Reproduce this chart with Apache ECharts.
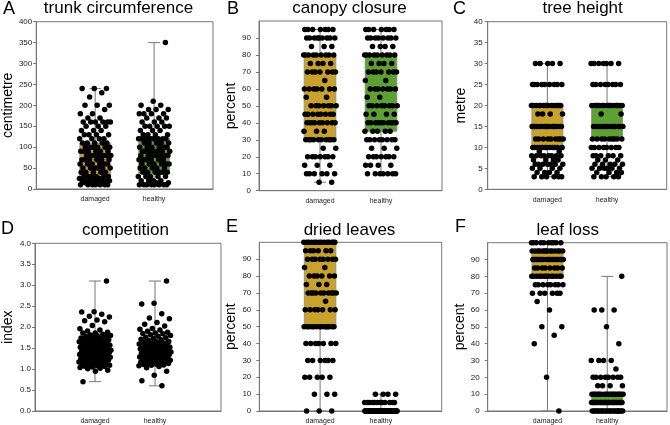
<!DOCTYPE html>
<html><head><meta charset="utf-8">
<script src="https://cdn.jsdelivr.net/npm/echarts@6/dist/echarts.min.js"></script>
<style>html,body{margin:0;padding:0;background:#fff}#c{width:670px;height:425px}</style>
</head><body><div id="c"></div>
<script>
// ---------------- DATA ----------------
const groups = ['damaged', 'healthy'];
const titles = ['trunk circumference', 'canopy closure', 'tree height', 'competition', 'dried leaves', 'leaf loss'];
const letters = ['A', 'B', 'C', 'D', 'E', 'F'];
const yNames = ['centimetre', 'percent', 'metre', 'index', 'percent', 'percent'];

// y-axis ranges [min, max, interval]
const yRanges = [[0, 400, 50], [0, 100, 10], [0, 40, 5], [0, 4, 0.5], [0, 100, 10], [0, 100, 10]];

// box statistics per group: [min, Q1, median, Q3, max]
const boxTrunk = [[10, 30, 70, 110, 240], [10, 37, 78, 122, 350]];
const boxCanopy = [[5, 30, 45, 80, 95], [10, 35, 50, 80, 95]];
const boxHeight = [[3, 10, 15, 20, 30], [3, 12, 15, 20, 30]];
const boxCompetition = [[0.70, 1.25, 1.42, 1.65, 3.10], [0.60, 1.27, 1.45, 1.62, 3.10]];
const boxDried = [[0, 50, 70, 100, 100], [0, 0, 0, 0, 10]];
const boxLoss = [[0, 80, 90, 95, 100], [0, 5, 5, 10, 80]];

// individual trees as [value, number of trees with that value]
const trunkDamaged = [[240,3],[230,1],[220,1],[200,3],[190,1],[180,2],[170,2],[160,6],[150,3],[140,3],[130,4],[120,4],[110,5],[100,6],[90,6],[80,7],[70,6],[60,6],[50,6],[40,5],[30,6],[25,2],[20,7],[15,2],[10,7]];
const trunkHealthy = [[350,1],[210,1],[200,2],[190,3],[180,4],[170,3],[160,3],[150,5],[140,3],[130,4],[120,8],[110,5],[100,6],[90,7],[80,7],[70,6],[60,6],[50,5],[40,6],[30,5],[20,4],[15,2],[10,8]];
const canopyDamaged = [[5,2],[10,6],[15,3],[20,7],[25,2],[30,10],[35,3],[40,9],[45,8],[50,7],[55,2],[60,7],[65,1],[70,7],[75,4],[80,9],[85,3],[90,9],[95,7]];
const canopyHealthy = [[10,7],[15,4],[20,7],[25,3],[30,8],[35,5],[40,10],[45,4],[50,8],[55,2],[60,7],[65,2],[70,7],[75,4],[80,9],[85,4],[90,8],[95,7]];
const heightDamaged = [[3,6],[4,4],[5,4],[6,7],[7,4],[8,8],[9,2],[10,12],[12,9],[15,16],[18,4],[20,15],[25,9],[30,5]];
const heightHealthy = [[3,5],[4,4],[5,6],[6,5],[7,3],[8,6],[10,8],[12,9],[15,13],[18,2],[20,16],[25,8],[30,7]];
const driedDamaged = [[0,3],[10,3],[20,5],[30,6],[40,7],[50,14],[60,7],[65,1],[70,10],[75,3],[80,6],[85,2],[90,8],[95,6],[100,14]];
const driedHealthy = [[0,80],[5,12],[10,4]];
const lossDamaged = [[0,1],[20,1],[40,1],[45,1],[50,2],[60,1],[65,1],[70,6],[75,8],[80,14],[85,8],[90,20],[95,14],[100,10]];
const lossHealthy = [[0,22],[5,30],[10,20],[15,4],[20,8],[25,1],[30,4],[40,1],[50,1],[60,3],[80,1]];

// competition index, individual trees
const compDamaged = [3.10,2.37,2.36,2.31,2.26,2.24,2.17,2.15,2.13,2.04,1.96,1.93,1.91,1.88,1.86,1.86,1.83,1.81,1.80,1.79,1.78,1.78,1.76,1.74,1.73,1.72,1.70,1.70,1.68,1.67,1.66,1.65,1.65,1.63,1.62,1.61,1.60,1.60,1.59,1.57,1.56,1.55,1.55,1.54,1.52,1.51,1.50,1.50,1.49,1.48,1.47,1.46,1.45,1.45,1.44,1.43,1.42,1.41,1.40,1.40,1.39,1.38,1.37,1.36,1.35,1.35,1.34,1.33,1.32,1.31,1.30,1.30,1.29,1.28,1.27,1.26,1.25,1.25,1.24,1.23,1.22,1.21,1.20,1.20,1.19,1.18,1.17,1.16,1.15,1.14,1.13,1.12,1.11,1.10,1.09,1.08,1.07,1.06,1.05,1.04,1.02,1.01,0.97,0.95,0.70];
const compHealthy = [3.10,2.57,2.55,2.32,2.22,2.20,2.11,2.07,2.03,1.97,1.95,1.93,1.90,1.88,1.86,1.85,1.84,1.82,1.80,1.78,1.76,1.75,1.73,1.71,1.70,1.68,1.66,1.65,1.64,1.62,1.61,1.60,1.59,1.58,1.57,1.56,1.55,1.54,1.53,1.52,1.51,1.50,1.50,1.49,1.48,1.47,1.46,1.45,1.45,1.44,1.43,1.42,1.41,1.40,1.40,1.39,1.38,1.37,1.36,1.35,1.34,1.33,1.32,1.31,1.30,1.29,1.28,1.27,1.26,1.25,1.24,1.23,1.22,1.21,1.20,1.19,1.18,1.17,1.16,1.15,1.14,1.13,1.12,1.11,1.10,1.09,1.08,1.06,1.03,0.95,0.85,0.72,0.60];

// ---------------- LAYOUT / STYLE ----------------
const FONT = 'Liberation Sans, Arial, Helvetica, sans-serif';
const BOX_COLORS = ['#C9A22E', '#5DA033'];
const LINE_COLOR = '#777777';
const gridsPx = [
  {left: 35, top: 21.7, width: 178, height: 167.3},
  {left: 259, top: 21, width: 183, height: 169.7},
  {left: 487.7, top: 21.7, width: 179, height: 167.6},
  {left: 35, top: 243.3, width: 186, height: 167.7},
  {left: 259.3, top: 242.3, width: 182.4, height: 169.4},
  {left: 487.7, top: 242.7, width: 180.3, height: 168.6}
];
const xMaxes = [3, 3, 3, 3.1, 3, 3];
const yLabelMargins = [4, 8, 5, 4, 8, 8];
const titlePos = [[118.5, 8], [349.5, 8], [582.6, 8], [125.5, 230], [349.5, 230], [567.7, 230]];
const letterPos = [[3, 9], [227, 9], [453, 9], [1, 229], [226, 227], [455, 227]];
const BOX_HALF = 0.26, CAP_HALF = 0.1, JIT = 0.27;

function expand(pairs) {
  const out = [];
  pairs.forEach(([v, n]) => { for (let k = 0; k < n; k++) out.push(v); });
  return out;
}
const panelBoxes = [boxTrunk, boxCanopy, boxHeight, boxCompetition, boxDried, boxLoss];
const panelDots = [
  [expand(trunkDamaged), expand(trunkHealthy)],
  [expand(canopyDamaged), expand(canopyHealthy)],
  [expand(heightDamaged), expand(heightHealthy)],
  [compDamaged, compHealthy],
  [expand(driedDamaged), expand(driedHealthy)],
  [expand(lossDamaged), expand(lossHealthy)]
];

// deterministic horizontal spread of dots inside the box width
function spread(vals, pos) {
  return vals.map((v, i) => [pos + ((((i + 3) * 0.6180339887) % 1) - 0.5) * 2 * JIT, v]);
}

function renderBox(params, api) {
  const x = api.value(0);
  const color = BOX_COLORS[params.dataIndex];
  const pMin = api.coord([x, api.value(1)]);
  const pQ1 = api.coord([x, api.value(2)]);
  const pMed = api.coord([x, api.value(3)]);
  const pQ3 = api.coord([x, api.value(4)]);
  const pMax = api.coord([x, api.value(5)]);
  const hw = api.size([BOX_HALF, 0])[0];
  const cw = api.size([CAP_HALF, 0])[0];
  const cx = pMin[0];
  const ls = {stroke: LINE_COLOR, lineWidth: 1};
  return {
    type: 'group',
    children: [
      {type: 'line', shape: {x1: cx, y1: pMin[1], x2: cx, y2: pMax[1]}, style: ls},
      {type: 'line', shape: {x1: cx - cw, y1: pMax[1], x2: cx + cw, y2: pMax[1]}, style: ls},
      {type: 'line', shape: {x1: cx - cw, y1: pMin[1], x2: cx + cw, y2: pMin[1]}, style: ls},
      {type: 'rect', shape: {x: cx - hw, y: pQ3[1], width: 2 * hw, height: pQ1[1] - pQ3[1]},
        style: {fill: color, stroke: '#8a8a8a', lineWidth: 0.8}},
      {type: 'line', shape: {x1: cx - hw, y1: pMed[1], x2: cx + hw, y2: pMed[1]}, style: {stroke: '#666', lineWidth: 1}}
    ]
  };
}

const grid = [], xAxis = [], yAxis = [], series = [], graphic = [];
for (let p = 0; p < 6; p++) {
  const g = gridsPx[p];
  grid.push({left: g.left, top: g.top, width: g.width, height: g.height, show: true,
    borderColor: LINE_COLOR, borderWidth: 1, backgroundColor: 'transparent'});
  xAxis.push({
    type: 'value', gridIndex: p, min: 0, max: xMaxes[p], interval: 1,
    axisLine: {show: true, lineStyle: {color: LINE_COLOR, width: 1}},
    axisTick: {show: false}, splitLine: {show: false},
    axisLabel: {fontSize: 7, color: '#222', margin: 7, fontFamily: FONT,
      formatter: v => (v === 1 ? groups[0] : (v === 2 ? groups[1] : ''))}
  });
  const r = yRanges[p];
  yAxis.push({
    type: 'value', gridIndex: p, min: r[0], max: r[1], interval: r[2],
    name: yNames[p], nameLocation: 'middle', nameGap: 20,
    nameTextStyle: {fontSize: 14, color: '#000', fontFamily: FONT},
    axisLine: {show: true, lineStyle: {color: LINE_COLOR, width: 1}},
    axisTick: {show: true, length: 3, lineStyle: {color: LINE_COLOR}},
    splitLine: {show: false},
    axisLabel: {fontSize: 8, color: '#222', margin: yLabelMargins[p], fontFamily: FONT,
      showMaxLabel: r[1] !== 100,
      formatter: v => (p === 3 ? v.toFixed(1) : String(v))}
  });
  series.push({
    type: 'custom', xAxisIndex: p, yAxisIndex: p, z: 2, clip: false,
    renderItem: renderBox,
    encode: {x: 0, y: [1, 2, 3, 4, 5]},
    data: panelBoxes[p].map((b, i) => [i + 1].concat(b))
  });
  series.push({
    type: 'scatter', xAxisIndex: p, yAxisIndex: p, z: 3,
    symbolSize: 5.5, itemStyle: {color: '#000', opacity: 1, borderWidth: 0}, clip: false,
    emphasis: {disabled: true},
    data: spread(panelDots[p][0], 1).concat(spread(panelDots[p][1], 2))
  });
  graphic.push({type: 'text', x: titlePos[p][0], y: titlePos[p][1],
    style: {text: titles[p], font: '17px ' + FONT, fill: '#000', textAlign: 'center', textVerticalAlign: 'middle'}});
  graphic.push({type: 'text', x: letterPos[p][0], y: letterPos[p][1],
    style: {text: letters[p], font: '18px ' + FONT, fill: '#000', textAlign: 'left', textVerticalAlign: 'middle'}});
}

const chart = echarts.init(document.getElementById('c'), null, {renderer: 'canvas'});
chart.setOption({
  animation: false,
  backgroundColor: '#fff',
  textStyle: {fontFamily: FONT},
  grid, xAxis, yAxis, series, graphic
});
</script>
</body></html>
